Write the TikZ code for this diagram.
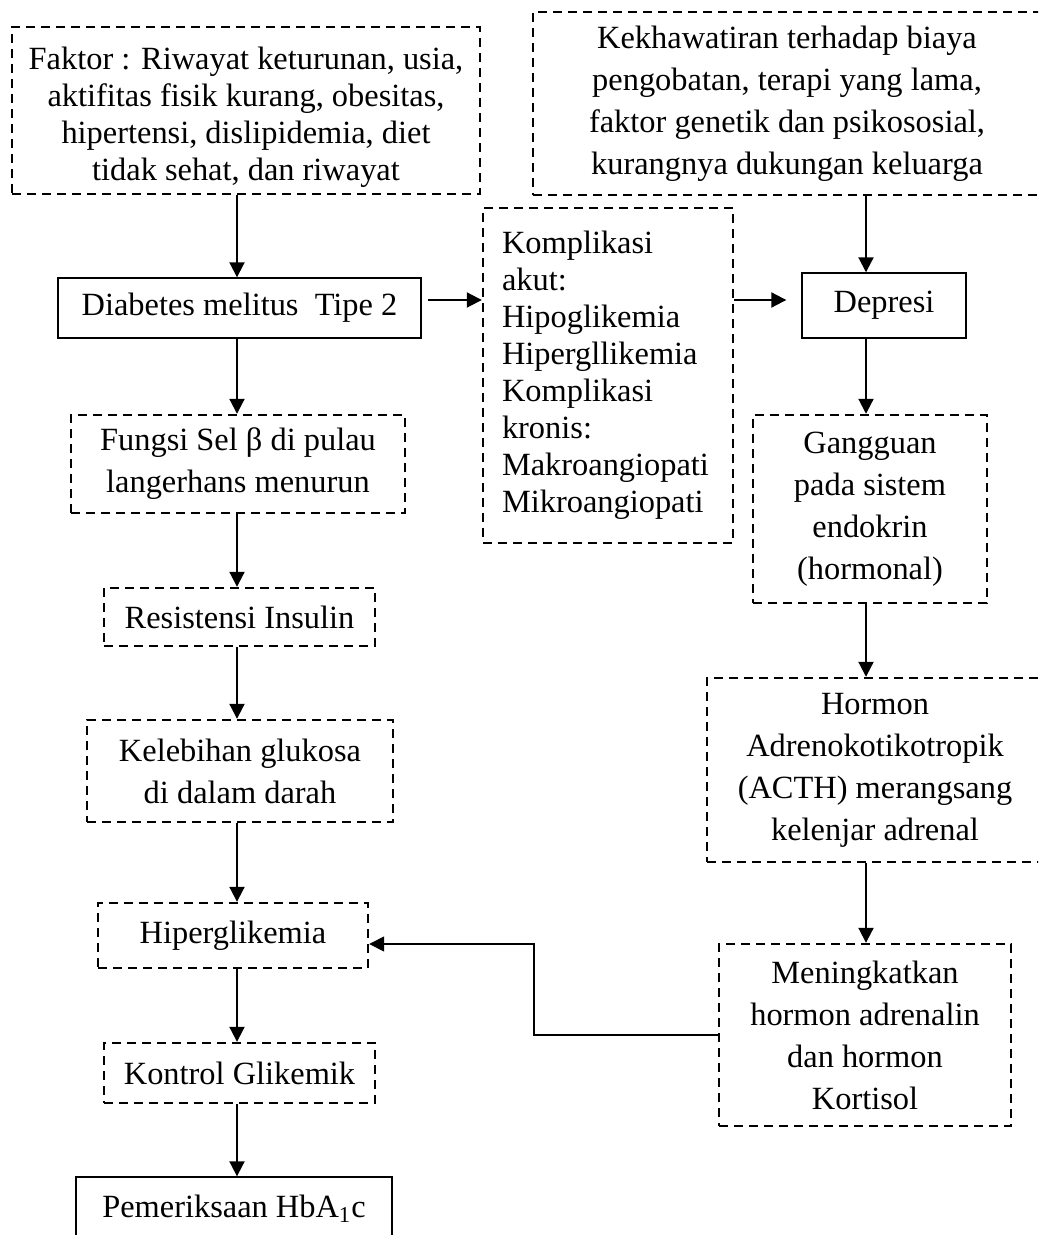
\documentclass[tikz,border=0pt]{standalone}
\usepackage{fontspec}
\setmainfont{Liberation Serif}
\usetikzlibrary{arrows.meta}

\def\fs{\fontsize{16.2}{21}\selectfont}
\def\fsk{\fontsize{16.2}{18.5}\selectfont}

\begin{document}
\begin{tikzpicture}[x=0.5pt,y=-0.5pt,
  box/.style={draw,line width=0.7pt,inner sep=0pt,align=center,font=\fs},
  dbox/.style={box,line width=1.2pt,dash pattern=on 4.5pt off 3pt},
  arr/.style={line width=1pt,-{Triangle[length=7.5pt,width=7.5pt]}}]
  \useasboundingbox (0,0) rectangle (1038,1235);
  \clip (0,0) rectangle (1038,1235);
  % left column
  \node[dbox,font=\fsk,minimum width=234pt,minimum height=83.5pt] (faktor) at (246,110.5) {\rule{0pt}{18pt}Faktor : Riwayat keturunan, usia,\\aktifitas fisik kurang, obesitas,\\hipertensi, dislipidemia, diet\\tidak sehat, dan riwayat};
  \node[box,minimum width=181.5pt,minimum height=30pt] (dm) at (239.5,308) {Diabetes melitus\ \ Tipe 2};
  \node[dbox,minimum width=167pt,minimum height=49pt] (fungsi) at (238,464) {Fungsi Sel β di pulau\\langerhans menurun};
  \node[dbox,minimum width=135.5pt,minimum height=29pt] (resist) at (239.5,617) {Resistensi Insulin};
  \node[dbox,minimum width=153pt,minimum height=51pt] (kel) at (240,771) {Kelebihan glukosa\\di dalam darah};
  \node[dbox,minimum width=135pt,minimum height=32.5pt] (hiper) at (233,935.5) {Hiperglikemia};
  \node[dbox,minimum width=135.5pt,minimum height=30pt] (kontrol) at (239.5,1073) {Kontrol Glikemik};
  \node[box,minimum width=158pt,minimum height=31.5pt] (pem) at (234,1208.5) {Pemeriksaan HbA\textsubscript{1}c};
  % middle and right column
  \node[dbox,font=\fsk,align=left,text width=106pt,minimum width=125pt,minimum height=167.5pt] (kompl) at (608,375.5) {Komplikasi\\akut:\\Hipoglikemia\\Hipergllikemia\\Komplikasi\\kronis:\\Makroangiopati\\Mikroangiopati};
  \node[dbox,minimum width=254pt,minimum height=91.5pt] (kekh) at (787,103.5) {Kekhawatiran terhadap biaya\\pengobatan, terapi yang lama,\\faktor genetik dan psikososial,\\kurangnya dukungan keluarga};
  \node[box,minimum width=82pt,minimum height=32.5pt] (depresi) at (884,305.5) {Depresi};
  \node[dbox,minimum width=117pt,minimum height=94pt] (gangguan) at (870,509) {Gangguan\\pada sistem\\endokrin\\(hormonal)};
  \node[dbox,minimum width=168pt,minimum height=92pt] (hormon) at (875,770) {Hormon\\Adrenokotikotropik\\(ACTH) merangsang\\kelenjar adrenal};
  \node[dbox,minimum width=146pt,minimum height=91pt] (mening) at (865,1035) {Meningkatkan\\hormon adrenalin\\dan hormon\\Kortisol};
  % arrows
  \coordinate (colL) at (237,0);
  \coordinate (colR) at (866,0);
  \coordinate (rowK) at (0,300);
  \coordinate (kink) at (534,990);
  \foreach \a/\b in {faktor/dm,dm/fungsi,fungsi/resist,resist/kel,kel/hiper,hiper/kontrol,kontrol/pem}
    \draw[arr] (\a.south -| colL) -- (\b.north -| colL);
  \foreach \a/\b in {kekh/depresi,depresi/gangguan,gangguan/hormon,hormon/mening}
    \draw[arr] (\a.south -| colR) -- (\b.north -| colR);
  \draw[arr,shorten <=3pt] (dm.east |- rowK) -- (kompl.west |- rowK);
  \draw[arr,shorten >=7.5pt] (kompl.east |- rowK) -- (depresi.west |- rowK);
  \draw[arr,line width=0.8pt] (mening.west) -| (kink) |- ([yshift=-4.25pt]hiper.east);
\end{tikzpicture}
\end{document}
